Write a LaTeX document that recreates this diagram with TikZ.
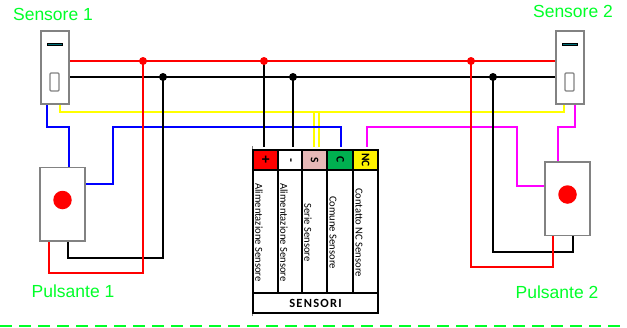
\documentclass[tikz,border=0pt]{standalone}
\usepackage{fontspec}
\setmainfont{Liberation Sans}
\newfontfamily\panelfont{Carlito}
\newfontfamily\panelspaced[LetterSpace=10]{Carlito}
\definecolor{lblgreen}{RGB}{0,255,40}
\definecolor{swpink}{RGB}{230,184,183}
\definecolor{swgreen}{RGB}{0,176,80}
\definecolor{devgray}{RGB}{130,130,130}
\definecolor{teal2}{RGB}{0,110,120}
\definecolor{wblue}{RGB}{0,0,255}
\definecolor{wmag}{RGB}{255,0,255}
\definecolor{wyel}{RGB}{255,255,0}
\tikzset{
  every node/.append style={outer sep=0pt},
  device/.style={draw=devgray,line width=1.5pt,fill=white,inner sep=0pt,anchor=north west},
  sensorbox/.style={device,minimum width=28pt,minimum height=73pt},
  buttonbox/.style={device,minimum width=45pt,minimum height=73.5pt},
  slit/.style={draw=black,line width=1.2pt,fill=teal2,inner sep=0pt,minimum width=15pt,minimum height=2.5pt},
  window/.style={draw=devgray,line width=1.2pt,fill=white,rounded corners=1pt,inner sep=0pt,minimum width=9pt,minimum height=18pt},
  pushdot/.style={circle,fill=red,inner sep=0pt,minimum size=18.5pt},
  wire/.style={line width=1.5pt},
  jred/.style={circle,fill=red,inner sep=0pt,minimum size=8pt},
  jblack/.style={circle,fill=black,inner sep=0pt,minimum size=8pt},
  title/.style={text=lblgreen,font=\fontsize{17.5}{19}\selectfont,inner sep=0pt},
  cell/.style={draw=black,line width=1.8pt,inner sep=0pt,anchor=north west,minimum height=20pt},
  bodycell/.style={cell,minimum height=123pt},
  cellhead/.style={rotate=-90,font=\panelfont\bfseries\fontsize{11.5}{12}\selectfont,inner sep=0pt},
  celltext/.style={rotate=-90,font=\panelfont\fontsize{10.6}{11}\selectfont,inner sep=0pt},
}
\begin{document}
\begin{tikzpicture}[x=1pt,y=-1pt]
\useasboundingbox (0,0) rectangle (627,327);
% bottom dashed rule
\coordinate (dl) at (0,326);
\coordinate (dr) at (627,326);
\draw[lblgreen,line width=1.5pt,dash pattern=on 12pt off 7pt] (dl) -- (dr);
% panel sketch line
\coordinate (pa) at (252,146);
\coordinate (pb) at (252,316);
\draw[gray,line width=0.8pt] (pa) -- (pb);
% ports
\coordinate (tp) at (264,147);
\coordinate (tm) at (293,147);
\coordinate (ts1) at (314,147);
\coordinate (ts2) at (319,147);
\coordinate (tc) at (341,147);
\coordinate (tn) at (367,147);
\coordinate (s1y) at (60,104);
\coordinate (s1k) at (47,104);
\coordinate (s2y) at (564,104);
\coordinate (s2m) at (575,104);
\coordinate (s1r) at (69,61);
\coordinate (s1n) at (69,77);
\coordinate (s2r) at (556,61);
\coordinate (s2n) at (556,77);
\coordinate (b1t) at (69,167.5);
\coordinate (b1s) at (85,184);
\coordinate (b1r) at (49,241);
\coordinate (b1k) at (68,241);
\coordinate (b2t) at (558,162);
\coordinate (b2s) at (545,186);
\coordinate (b2r) at (553,235);
\coordinate (b2k) at (573,235);
\coordinate (hr1) at (143,61);
\coordinate (hr2) at (264,61);
\coordinate (hr3) at (471,61);
\coordinate (hk1) at (163,77);
\coordinate (hk2) at (293,77);
\coordinate (hk3) at (493,77);
% yellow
\draw[wyel,wire] (s1y) -- ++(0,8) -| (ts2);
\draw[wyel,wire] (s2y) -- ++(0,8) -| (ts1);
% blue
\draw[wblue,wire] (s1k) |- (69,127) -- (b1t);
\draw[wblue,wire] (b1s) -| (113,127) -| (tc);
% magenta
\draw[wmag,wire] (s2m) |- (558,127) -- (b2t);
\draw[wmag,wire] (b2s) -| (517,127) -| (tn);
% black
\draw[black,wire] (s1n) -- (s2n);
\draw[black,wire] (b1k) |- (163,258) -- (hk1);
\draw[black,wire] (hk2) -- (tm);
\draw[black,wire] (hk3) |- (573,252) -- (b2k);
% red
\draw[red,wire] (s1r) -- (s2r);
\draw[red,wire] (hr1) -- (143,273) -| (b1r);
\draw[black,wire] (hr2) -- (tp);
\draw[red,wire] (hr3) -- (471,267) -| (b2r);
% junction nodes
\node[jred] (jr1) at (hr1) {};
\node[jred] (jr2) at (hr2) {};
\node[jred] (jr3) at (hr3) {};
\node[jblack] (jk1) at (hk1) {};
\node[jblack] (jk2) at (hk2) {};
\node[jblack] (jk3) at (hk3) {};
% devices
\node[sensorbox] (s1) at (41,31) {};
\node[sensorbox] (s2) at (556,31) {};
\node[buttonbox] (b1) at (40,167.5) {};
\node[buttonbox] (b2) at (545,162) {};
\node[slit] (s1a) at (55,44.5) {};
\node[window] (s1b) at (54.5,82) {};
\node[slit] (s2a) at (570,44.5) {};
\node[window] (s2b) at (569.5,82) {};
\node[pushdot] (b1d) at (62.5,200) {};
\node[pushdot] (b2d) at (567.5,194.5) {};
% panel
\node[cell,minimum width=24.7pt,fill=red] (c1) at (253,150) {};
\node[cell,minimum width=24pt,fill=white] (c2) at (277.7,150) {};
\node[cell,minimum width=25.6pt,fill=swpink] (c3) at (301.7,150) {};
\node[cell,minimum width=26pt,fill=swgreen] (c4) at (327.3,150) {};
\node[cell,minimum width=24.7pt,fill=yellow] (c5) at (353.3,150) {};
\node[bodycell,minimum width=24.7pt] (d1) at (253,170) {};
\node[bodycell,minimum width=24pt] (d2) at (277.7,170) {};
\node[bodycell,minimum width=25.6pt] (d3) at (301.7,170) {};
\node[bodycell,minimum width=26pt] (d4) at (327.3,170) {};
\node[bodycell,minimum width=24.7pt] (d5) at (353.3,170) {};
\node[cell,minimum width=125pt,minimum height=20pt] (foot) at (253,293) {};
\node[cellhead,font=\bfseries\fontsize{14}{15}\selectfont] at (c1.center) {+};
\node[cellhead,font=\bfseries\fontsize{12}{13}\selectfont] at (c2.center) {-};
\node[cellhead] at (c3.center) {S};
\node[cellhead] at (c4.center) {C};
\node[cellhead] at (c5.center) {NC};
\node[celltext] at (259,232.5) {Alimentazione Sensore};
\node[celltext] at (284,232.5) {Alimentazione Sensore};
\node[celltext] at (308,232.5) {Serie Sensore};
\node[celltext] at (333,232.5) {Comune Sensore};
\node[celltext] at (359,232.5) {Contatto NC Sensore};
\node[font=\panelspaced\bfseries\fontsize{12.5}{14}\selectfont,inner sep=0pt] at (foot.center) {SENSORI};
% titles
\node[title] (t1) at (53,14.5) {Sensore 1};
\node[title] (t2) at (573,11.5) {Sensore 2};
\node[title] (t3) at (73,291.5) {Pulsante 1};
\node[title] (t4) at (557,292) {Pulsante 2};
\end{tikzpicture}
\end{document}
